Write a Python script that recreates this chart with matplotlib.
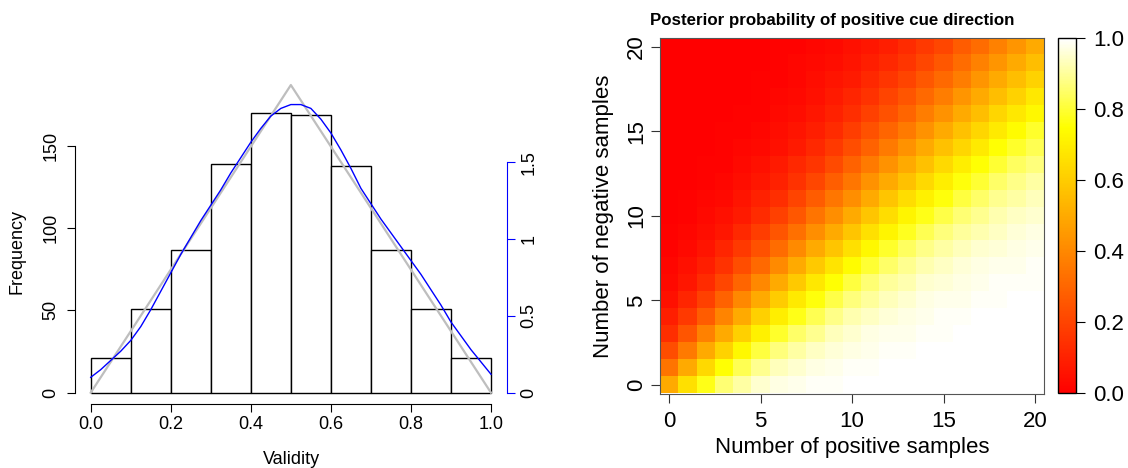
import numpy as np
import matplotlib
matplotlib.use('Agg')
from matplotlib import pyplot as plt
from matplotlib.colors import LinearSegmentedColormap

plt.rcParams['font.family'] = ['Liberation Sans', 'DejaVu Sans']

# left panel: histogram of validities
bin_left = [0.0, 0.1, 0.2, 0.3, 0.4, 0.5, 0.6, 0.7, 0.8, 0.9]
counts = [21, 51, 87, 139, 170, 169, 138, 87, 51, 21]
tri_x = [0.0, 0.5, 1.0]
tri_y = [0, 187, 0]
dens_x = [0.0, 0.025, 0.05, 0.075, 0.1, 0.125, 0.15, 0.175, 0.2, 0.225,
          0.25, 0.275, 0.3, 0.325, 0.35, 0.375, 0.4, 0.425, 0.45, 0.475,
          0.5, 0.525, 0.55, 0.575, 0.6, 0.625, 0.65, 0.675, 0.7, 0.725,
          0.75, 0.775, 0.8, 0.825, 0.85, 0.875, 0.9, 0.925, 0.95, 0.975, 1.0]
dens_y = [0.10, 0.15, 0.21, 0.27, 0.34, 0.43, 0.54, 0.66, 0.78, 0.90,
          1.01, 1.12, 1.22, 1.32, 1.43, 1.53, 1.63, 1.72, 1.80, 1.85,
          1.875, 1.875, 1.85, 1.78, 1.69, 1.58, 1.46, 1.33, 1.23, 1.13,
          1.04, 0.95, 0.86, 0.77, 0.67, 0.57, 0.46, 0.37, 0.28, 0.20, 0.12]
freq_per_density = 93.4

# right panel: posterior, rows = negative samples 0..20, cols = positive samples 0..20
posterior = [
    [0.50, 0.66, 0.77, 0.86, 0.91, 0.95, 0.97, 0.98, 0.99, 0.99, 1.00, 1.00, 1.00, 1.00, 1.00, 1.00, 1.00, 1.00, 1.00, 1.00, 1.00],
    [0.34, 0.50, 0.64, 0.75, 0.83, 0.89, 0.93, 0.95, 0.97, 0.98, 0.99, 0.99, 1.00, 1.00, 1.00, 1.00, 1.00, 1.00, 1.00, 1.00, 1.00],
    [0.23, 0.36, 0.50, 0.62, 0.73, 0.81, 0.87, 0.91, 0.94, 0.96, 0.97, 0.98, 0.99, 0.99, 1.00, 1.00, 1.00, 1.00, 1.00, 1.00, 1.00],
    [0.14, 0.25, 0.38, 0.50, 0.61, 0.71, 0.79, 0.85, 0.89, 0.93, 0.95, 0.97, 0.98, 0.98, 0.99, 0.99, 1.00, 1.00, 1.00, 1.00, 1.00],
    [0.09, 0.17, 0.27, 0.39, 0.50, 0.61, 0.70, 0.77, 0.83, 0.88, 0.92, 0.94, 0.96, 0.97, 0.98, 0.99, 0.99, 1.00, 1.00, 1.00, 1.00],
    [0.05, 0.11, 0.19, 0.29, 0.40, 0.50, 0.60, 0.69, 0.76, 0.82, 0.87, 0.90, 0.93, 0.95, 0.97, 0.98, 0.98, 0.99, 0.99, 1.00, 1.00],
    [0.03, 0.07, 0.13, 0.21, 0.30, 0.40, 0.50, 0.59, 0.68, 0.75, 0.81, 0.86, 0.90, 0.92, 0.95, 0.96, 0.97, 0.98, 0.99, 0.99, 0.99],
    [0.02, 0.05, 0.09, 0.15, 0.23, 0.31, 0.41, 0.50, 0.59, 0.67, 0.74, 0.80, 0.85, 0.89, 0.92, 0.94, 0.96, 0.97, 0.98, 0.98, 0.99],
    [0.01, 0.03, 0.06, 0.11, 0.17, 0.24, 0.32, 0.41, 0.50, 0.58, 0.66, 0.73, 0.79, 0.84, 0.88, 0.91, 0.93, 0.95, 0.96, 0.97, 0.98],
    [0.01, 0.02, 0.04, 0.07, 0.12, 0.18, 0.25, 0.33, 0.42, 0.50, 0.58, 0.66, 0.72, 0.78, 0.83, 0.87, 0.90, 0.92, 0.94, 0.96, 0.97],
    [0.00, 0.01, 0.03, 0.05, 0.08, 0.13, 0.19, 0.26, 0.34, 0.42, 0.50, 0.58, 0.65, 0.72, 0.77, 0.82, 0.86, 0.89, 0.92, 0.94, 0.95],
    [0.00, 0.01, 0.02, 0.03, 0.06, 0.10, 0.14, 0.20, 0.27, 0.35, 0.42, 0.50, 0.58, 0.65, 0.71, 0.76, 0.81, 0.85, 0.89, 0.91, 0.93],
    [0.00, 0.00, 0.01, 0.02, 0.04, 0.07, 0.10, 0.15, 0.21, 0.28, 0.35, 0.43, 0.50, 0.57, 0.64, 0.70, 0.76, 0.80, 0.85, 0.88, 0.91],
    [0.00, 0.00, 0.01, 0.01, 0.03, 0.05, 0.08, 0.12, 0.16, 0.22, 0.29, 0.36, 0.43, 0.50, 0.57, 0.64, 0.70, 0.75, 0.80, 0.84, 0.87],
    [0.00, 0.00, 0.00, 0.01, 0.02, 0.03, 0.05, 0.08, 0.12, 0.17, 0.23, 0.29, 0.36, 0.43, 0.50, 0.57, 0.63, 0.69, 0.75, 0.79, 0.83],
    [0.00, 0.00, 0.00, 0.01, 0.01, 0.02, 0.04, 0.06, 0.09, 0.13, 0.18, 0.24, 0.30, 0.36, 0.43, 0.50, 0.57, 0.63, 0.69, 0.74, 0.79],
    [0.00, 0.00, 0.00, 0.00, 0.01, 0.01, 0.03, 0.04, 0.07, 0.10, 0.14, 0.19, 0.24, 0.30, 0.37, 0.43, 0.50, 0.56, 0.63, 0.68, 0.73],
    [0.00, 0.00, 0.00, 0.00, 0.00, 0.01, 0.02, 0.03, 0.05, 0.08, 0.11, 0.15, 0.20, 0.25, 0.31, 0.37, 0.44, 0.50, 0.56, 0.62, 0.68],
    [0.00, 0.00, 0.00, 0.00, 0.00, 0.01, 0.01, 0.02, 0.04, 0.06, 0.08, 0.12, 0.16, 0.20, 0.26, 0.31, 0.37, 0.44, 0.50, 0.56, 0.62],
    [0.00, 0.00, 0.00, 0.00, 0.00, 0.00, 0.01, 0.02, 0.03, 0.04, 0.06, 0.09, 0.12, 0.16, 0.21, 0.26, 0.32, 0.38, 0.44, 0.50, 0.56],
    [0.00, 0.00, 0.00, 0.00, 0.00, 0.00, 0.01, 0.01, 0.02, 0.03, 0.05, 0.07, 0.09, 0.13, 0.17, 0.21, 0.27, 0.32, 0.38, 0.44, 0.50],
]
sample_ticks = [0, 5, 10, 15, 20]
cbar_ticks = [0.0, 0.2, 0.4, 0.6, 0.8, 1.0]

W, H = 1128, 468
fig = plt.figure(figsize=(W / 100, H / 100), dpi=100)


def fx(px):
    return px / W


def fy(py):
    return 1 - py / H


# ---- histogram panel
ax1 = fig.add_axes([fx(74.7), fy(404), fx(507) - fx(74.7), fy(98.9) - fy(404)])
ax1.bar(bin_left, counts, width=0.1, align='edge', facecolor='white',
        edgecolor='black', linewidth=1.0)
ax1.plot(tri_x, tri_y, color='#BEBEBE', lw=1.6, clip_on=False)
ymax = 171.7
ax1.set_xlim(-0.04, 1.04)
ax1.set_ylim(-0.04 * ymax, 1.04 * ymax)
for s in ['top', 'right']:
    ax1.spines[s].set_visible(False)
ax1.spines['left'].set_bounds(0, 150)
ax1.spines['bottom'].set_bounds(0, 1)
ax1.set_xticks([0.0, 0.2, 0.4, 0.6, 0.8, 1.0])
ax1.set_xticklabels(['0.0', '0.2', '0.4', '0.6', '0.8', '1.0'])
ax1.set_yticks([0, 50, 100, 150])
ax1.tick_params(axis='x', length=5.8, width=0.8, pad=3, labelsize=13)
ax1.tick_params(axis='y', length=5.8, width=0.8, pad=5, labelsize=13, labelrotation=90)
for lab in ax1.get_yticklabels():
    lab.set_va('center')
ax1.set_xlabel('Validity', fontsize=13)
ax1.xaxis.label.set_va('center')
ax1.xaxis.set_label_coords(fx(291), fy(460), transform=fig.transFigure)
ax1.set_ylabel('Frequency', fontsize=13)
ax1.yaxis.label.set_va('center')
ax1.yaxis.set_label_coords(fx(17), fy(252), transform=fig.transFigure)

ax2 = ax1.twinx()
ax2.plot(dens_x, dens_y, color='blue', lw=1.0)
ax2.set_ylim(-0.04 * ymax / freq_per_density, 1.04 * ymax / freq_per_density)
for s in ['top', 'left', 'bottom']:
    ax2.spines[s].set_visible(False)
ax2.spines['right'].set_bounds(0, 1.5)
ax2.spines['right'].set_color('blue')
ax2.set_yticks([0, 0.5, 1, 1.5])
ax2.set_yticklabels(['0', '0.5', '1', '1.5'])
ax2.tick_params(axis='y', length=5.8, width=0.8, color='blue', labelcolor='black',
                pad=4, labelsize=13, labelrotation=90)
for lab in ax2.get_yticklabels():
    lab.set_va('center')

# ---- posterior heatmap panel
heat = LinearSegmentedColormap.from_list(
    'heat', [(0.0, '#FF0000'), (0.75, '#FFFF00'), (1.0, '#FFFFFF')])
ax3 = fig.add_axes([fx(660.2), fy(393.5), fx(1044.1) - fx(660.2), fy(38.1) - fy(393.5)])
im = ax3.imshow(np.array(posterior), origin='lower', cmap=heat, vmin=0, vmax=1,
                extent=(-0.5, 20.5, -0.5, 20.5), aspect='auto', interpolation='nearest')
for s in ax3.spines.values():
    s.set_color('#555555')
    s.set_linewidth(0.8)
ax3.set_xticks(sample_ticks)
ax3.set_yticks(sample_ticks)
ax3.tick_params(axis='x', length=6.5, width=0.8, color='#333333', pad=6.3, labelsize=16)
ax3.tick_params(axis='y', length=6.5, width=0.8, color='#333333', pad=3, labelsize=16,
                labelrotation=90)
for lab in ax3.get_yticklabels():
    lab.set_va('center')
ax3.set_xlabel('Number of positive samples', fontsize=16)
ax3.xaxis.label.set_va('center')
ax3.xaxis.set_label_coords(fx(852), fy(448), transform=fig.transFigure)
ax3.set_ylabel('Number of negative samples', fontsize=16)
ax3.yaxis.label.set_va('center')
ax3.yaxis.set_label_coords(fx(603), fy(216), transform=fig.transFigure)

fig.text(fx(832), fy(20), 'Posterior probability of positive cue direction',
         ha='center', va='center', fontsize=12.2, fontweight='bold')

cax = fig.add_axes([fx(1058.3), fy(393.3), fx(1075.7) - fx(1058.3), fy(38.3) - fy(393.3)])
cb = fig.colorbar(im, cax=cax, ticks=cbar_ticks)
cb.ax.set_yticklabels(['%.1f' % t for t in cbar_ticks])
cb.outline.set_edgecolor('black')
cb.outline.set_linewidth(1.0)
cb.ax.tick_params(length=6.5, width=0.8, pad=5.8, labelsize=16)

fig.savefig('out.png', dpi=100)
